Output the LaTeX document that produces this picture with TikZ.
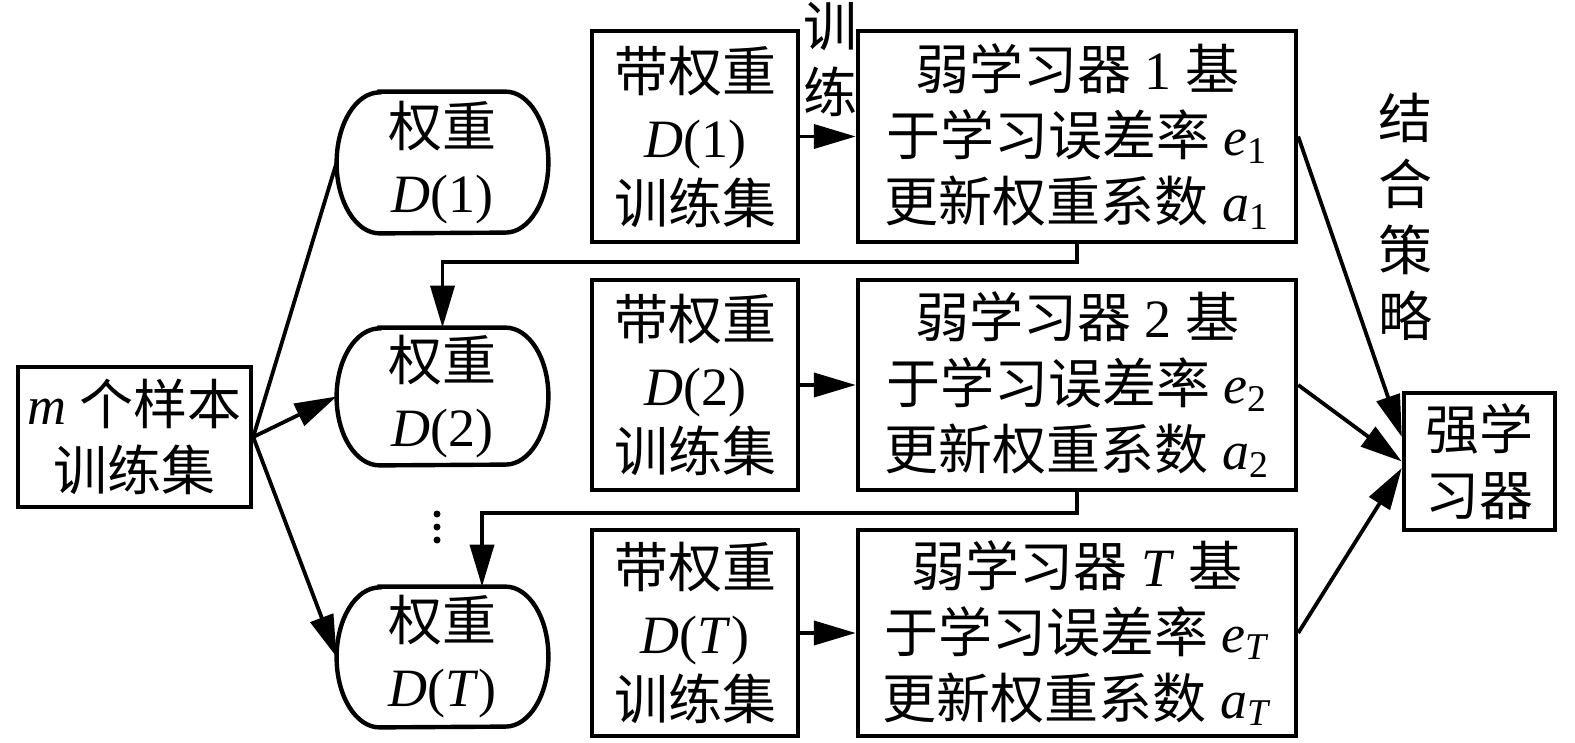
\documentclass[tikz,border=0pt]{standalone}
\usepackage{fontspec}
\setmainfont{Liberation Serif}
\newfontfamily\cjk{Noto Sans CJK SC}
\newcommand\zh[1]{{\cjk #1}}
\usetikzlibrary{arrows.meta}
\begin{document}
\begin{tikzpicture}[x=0.5pt,y=-0.5pt,
  txt/.style={inner sep=0pt, align=center, font=\fontsize{27}{33}\selectfont},
  box/.style={txt, draw, line width=2.2pt},
  wshape/.style={txt, draw=none, minimum width=105.5pt},
  conn/.style={line width=1.9pt},
  arr/.style={conn, -{Triangle[length=21pt,width=12pt]}},
  dsbox/.style={box, minimum width=103pt},
  wbox/.style={box, minimum width=219pt}]
\useasboundingbox (0,0) rectangle (1575,743);

% left training set
\node[box, minimum width=116.5pt, minimum height=70pt] (L) at (134.5,437)
  {\textit{m} \zh{个样本}\\\zh{训练集}};

% weight shapes
\node[wshape, minimum height=70.5pt] (R1) at (442.5,162.5) {\zh{权重}\\\textit{D}(1)};
\node[wshape, minimum height=68.5pt] (R2) at (442.5,396.5) {\zh{权重}\\\textit{D}(2)};
\node[wshape, minimum height=70pt]   (R3) at (442.5,657)   {\zh{权重}\\\textit{D}(\textit{T})};
\foreach \n/\h in {R1/35.25,R2/34.25,R3/35}{
  \draw[line width=2.2pt]
    ([xshift=21.5pt]\n.north west) -- ([xshift=-21.5pt]\n.north east)
    arc[start angle=90, end angle=-90, x radius=21.5pt, y radius=\h pt]
    -- ([xshift=21.5pt]\n.south west)
    arc[start angle=270, end angle=90, x radius=21.5pt, y radius=\h pt]
    -- cycle;
}

% weighted training sets
\node[dsbox, minimum height=105.5pt] (D1) at (695,136.5) {\zh{带权重}\\\textit{D}(1)\\\zh{训练集}};
\node[dsbox, minimum height=105pt]   (D2) at (695,385)   {\zh{带权重}\\\textit{D}(2)\\\zh{训练集}};
\node[dsbox, minimum height=103pt]   (D3) at (695,633)   {\zh{带权重}\\\textit{D}(\textit{T})\\\zh{训练集}};

% weak learners
\node[wbox, minimum height=105.5pt] (W1) at (1077,136.5)
  {\zh{弱学习器} 1 \zh{基}\\\zh{于学习误差率} \textit{e}\textsubscript{1}\\\zh{更新权重系数} \textit{a}\textsubscript{1}};
\node[wbox, minimum height=105pt] (W2) at (1077,385)
  {\zh{弱学习器} 2 \zh{基}\\\zh{于学习误差率} \textit{e}\textsubscript{2}\\\zh{更新权重系数} \textit{a}\textsubscript{2}};
\node[wbox, minimum height=103pt] (W3) at (1077,633)
  {\zh{弱学习器} \textit{T} \zh{基}\\\zh{于学习误差率} \textit{e}\textsubscript{\textit{T}}\\\zh{更新权重系数} \textit{a}\textsubscript{\textit{T}}};

% strong learner
\node[box, minimum width=75.5pt, minimum height=68.5pt] (S) at (1479.5,461.5) {\zh{强学}\\\zh{习器}};

% labels
\node[txt] (lt) at (830,60) {\zh{训}\\\zh{练}};
\node[txt] (lc) at (1405,217) {\zh{结}\\\zh{合}\\\zh{策}\\\zh{略}};

% connectors
\draw[conn] (L.east) -- (R1.west);
\draw[arr] (L.east) -- (R2.west);
\draw[arr] (L.east) -- (R3.west);
\draw[arr] (D1.east) -- (W1.west);
\draw[arr] (D2.east) -- (W2.west);
\draw[arr] (D3.east) -- (W3.west);
\coordinate (h1) at (0,262);
\coordinate (h2) at (0,513);
\draw[arr] (W1.south) -- (W1.south |- h1) -| (R2.north);
\draw[arr] (W2.south) -- (W2.south |- h2) -| ([xshift=19.75pt]R3.north);
\draw[arr] (W1.east) -- ([yshift=12.25pt]S.west);
\draw[arr] (W2.east) -- (S.west);
\draw[arr] (W3.east) -- ([yshift=-3.25pt]S.west);

% dots
\fill (437,514) circle[radius=1.75pt];
\fill (437,527) circle[radius=1.75pt];
\fill (437,540) circle[radius=1.75pt];
\end{tikzpicture}
\end{document}
